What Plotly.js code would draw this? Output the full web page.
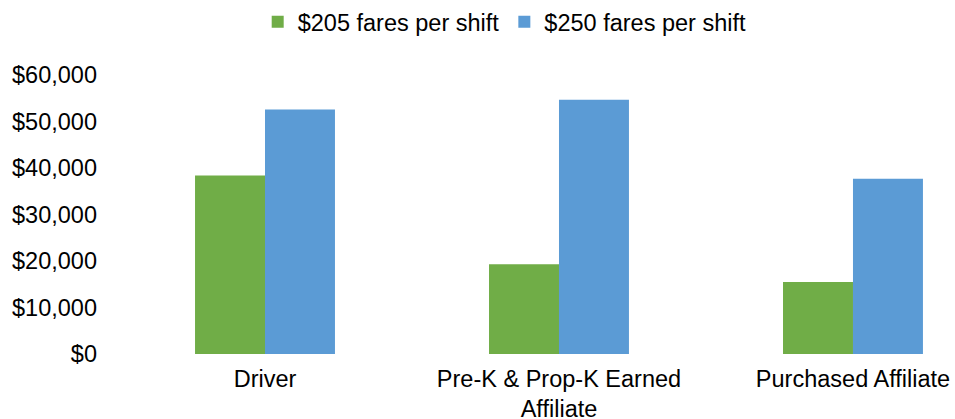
<!DOCTYPE html>
<html>
<head>
<meta charset="utf-8">
<script src="https://cdn.plot.ly/plotly-3.0.1.min.js"></script>
<style>html,body{margin:0;padding:0;background:#fff;}#chart{width:955px;height:419px;}</style>
</head>
<body>
<div id="chart"></div>
<script>
const categories = ["Driver", "Pre-K & Prop-K Earned<br>Affiliate", "Purchased Affiliate"];
const seriesNames = ["$205 fares per shift", "$250 fares per shift"];
const fares205 = [38400, 19300, 15500];
const fares250 = [52600, 54700, 37700];
const yTicks = [0, 10000, 20000, 30000, 40000, 50000, 60000];
const yTickLabels = ["$0", "$10,000", "$20,000", "$30,000", "$40,000", "$50,000", "$60,000"];

const font = {family: '"Liberation Sans", Arial, sans-serif', size: 23.5, color: '#000'};

const traces = [
  {type: 'bar', name: seriesNames[0], x: categories, y: fares205,
   marker: {color: '#70AD47'}, hoverinfo: 'skip'},
  {type: 'bar', name: seriesNames[1], x: categories, y: fares250,
   marker: {color: '#5B9BD5'}, hoverinfo: 'skip'}
];

const layout = {
  width: 955, height: 419,
  margin: {l: 118, r: 0, t: 75, b: 65},
  paper_bgcolor: '#fff', plot_bgcolor: '#fff',
  font: font,
  barmode: 'group',
  bargap: 0.524,
  bargroupgap: 0,
  showlegend: true,
  legend: {orientation: 'h', x: 0.462, xanchor: 'center', y: 1.19, yanchor: 'middle',
           font: font, traceorder: 'normal', itemclick: false},
  xaxis: {type: 'category', range: [-0.5, 2.347], showline: false, showgrid: false,
          zeroline: false, ticks: '', ticklabelstandoff: 8, tickfont: font, fixedrange: true},
  yaxis: {range: [0, 60000], tickvals: yTicks, ticktext: yTickLabels,
          showgrid: false, zeroline: false, showline: false, ticks: '',
          ticklabelstandoff: 20, tickfont: font, fixedrange: true}
};

Plotly.newPlot('chart', traces, layout, {staticPlot: true, displayModeBar: false});
</script>
</body>
</html>
